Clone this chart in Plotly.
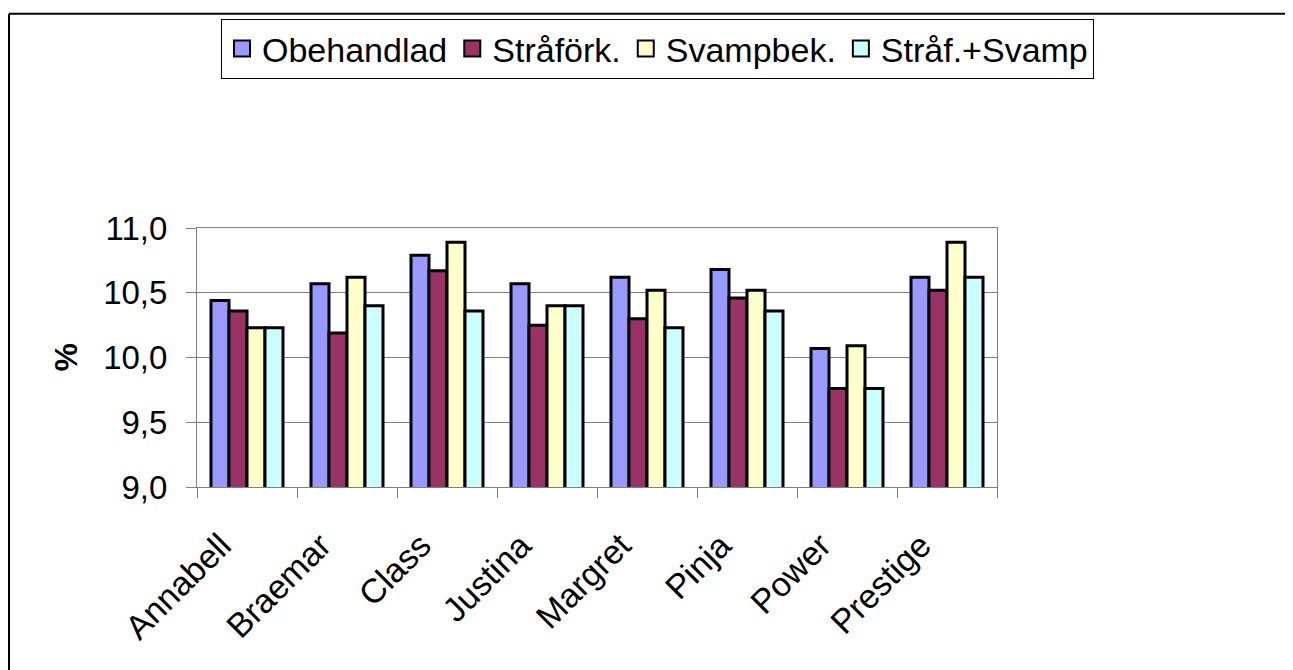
import plotly.graph_objects as go

categories = ["Annabell", "Braemar", "Class", "Justina", "Margret", "Pinja", "Power", "Prestige"]
series_names = ["Obehandlad", "Stråförk.", "Svampbek.", "Stråf.+Svamp"]
obehandlad = [10.44, 10.57, 10.79, 10.57, 10.62, 10.68, 10.07, 10.62]
straforк = [10.36, 10.19, 10.67, 10.25, 10.30, 10.46, 9.76, 10.52]
svampbek = [10.23, 10.62, 10.89, 10.40, 10.52, 10.52, 10.09, 10.89]
straf_svamp = [10.23, 10.40, 10.36, 10.40, 10.23, 10.36, 9.76, 10.62]
colors = ["#9999FF", "#993366", "#FFFFCC", "#CCFFFF"]
y_ticks = [9.0, 9.5, 10.0, 10.5, 11.0]

series_values = [obehandlad, straforк, svampbek, straf_svamp]

fig = go.Figure()
for name, vals, col in zip(series_names, series_values, colors):
    fig.add_trace(go.Bar(
        x=categories, y=vals, name=name, showlegend=False,
        marker=dict(color=col, line=dict(color="black", width=3)),
    ))
# legend entries with larger square symbols
for name, col in zip(series_names, colors):
    fig.add_trace(go.Scatter(
        x=[None], y=[None], mode="markers", name=name,
        marker=dict(symbol="square", size=16, color=col,
                    line=dict(color="black", width=2)),
    ))

# page body has an 8px margin; compensate
OFF = 8
W, H = 1293 - OFF, 670 - OFF
L, T = 197 - OFF, 227 - OFF
pw, ph = 800, 260
R = W - L - pw
B = H - T - ph

def px_x(px):
    return (px - OFF - L) / pw

def px_y(py):
    return (T + ph - (py - OFF)) / ph

font_family = "Liberation Sans, Arial, sans-serif"

fig.update_layout(
    width=W, height=H,
    margin=dict(l=L, r=R, t=T, b=B),
    paper_bgcolor="white", plot_bgcolor="white",
    barmode="group", bargap=0.28, bargroupgap=0,
    separators=",.",
    font=dict(family=font_family, color="black", size=33),
    showlegend=True,
    legend=dict(
        orientation="h",
        x=px_x(1094), y=px_y(19),
        xanchor="right", yanchor="top",
        bgcolor="white", bordercolor="black", borderwidth=1,
        font=dict(size=34, family=font_family, color="black"),
        itemsizing="trace", traceorder="normal",
    ),
    xaxis=dict(
        type="category",
        tickangle=-45,
        tickson="boundaries",
        ticks="outside", ticklen=10, tickcolor="#808080",
        ticklabelstandoff=24, ticklabelshift=-26,
        showline=True, linecolor="#808080", linewidth=1, mirror=True,
        showgrid=False,
        tickfont=dict(size=34, family=font_family, color="black"),
    ),
    yaxis=dict(
        range=[9.0, 11.0],
        tickvals=y_ticks,
        tickformat=".1f",
        ticks="outside", ticklen=10, tickcolor="#808080",
        ticklabelstandoff=12,
        showline=True, linecolor="#808080", linewidth=1, mirror=True,
        showgrid=True, gridcolor="#808080", gridwidth=1,
        zeroline=False,
        tickfont=dict(size=33, family=font_family, color="black"),
    ),
    annotations=[dict(
        text="<b>%</b>", xref="paper", yref="paper",
        x=px_x(65), y=px_y(357), showarrow=False, textangle=-90,
        font=dict(size=32, family=font_family, color="black"),
        xanchor="center", yanchor="middle",
    )],
    shapes=[
        dict(type="line", xref="paper", yref="paper",
             x0=px_x(9), x1=px_x(9), y0=px_y(12), y1=px_y(720),
             line=dict(color="black", width=2)),
        dict(type="line", xref="paper", yref="paper",
             x0=px_x(9), x1=px_x(1340), y0=px_y(12), y1=px_y(12),
             line=dict(color="black", width=2)),
    ],
)

fig.write_html("out.html")
